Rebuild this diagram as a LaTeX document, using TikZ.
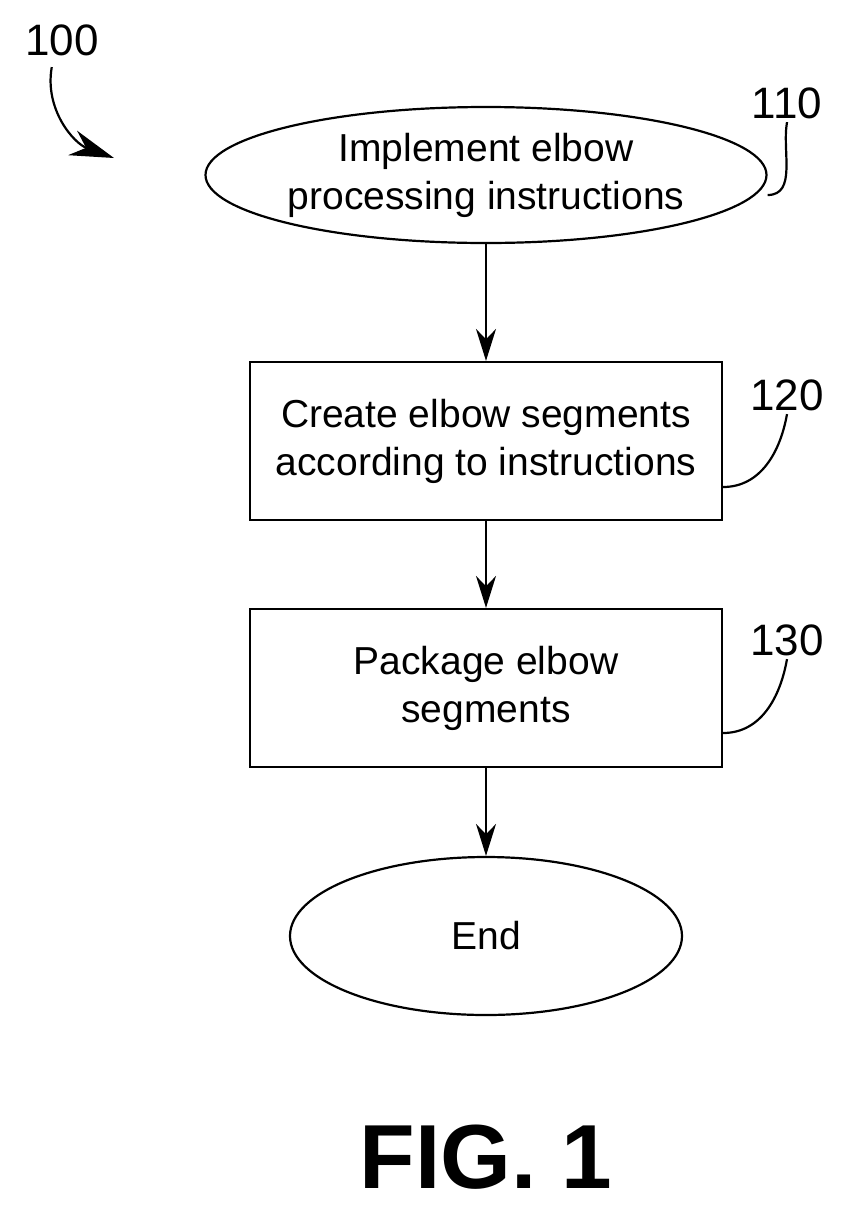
\documentclass[tikz,border=0pt]{standalone}
\usepackage{fontspec}
\setmainfont{Liberation Sans}
\usetikzlibrary{arrows.meta,shapes.geometric}
\tikzset{
  proc/.style={draw, line width=2.2pt, minimum width=472pt, minimum height=158pt, align=center, font=\fontsize{39}{48}\selectfont},
  term/.style={draw, line width=2.2pt, ellipse, inner sep=0pt, align=center, font=\fontsize{39}{48}\selectfont},
  flow/.style={line width=2.2pt, -{Stealth[length=32pt,width=20pt]}},
  lead/.style={line width=2.2pt},
  ref/.style={font=\fontsize{44}{50}\selectfont}
}
\begin{document}
\begin{tikzpicture}[x=1pt,y=-1pt]
    \useasboundingbox (0,0) rectangle (844,1211);

    % flow steps
    \node (impl) at (486,175) [term, minimum width=450pt, minimum height=136pt] {Implement elbow\\processing instructions};
    \node (create) at (486,441) [proc] {Create elbow segments\\according to instructions};
    \node (pack) at (486,688) [proc] {Package elbow\\segments};
    \node (end) at (486,936) [term, minimum width=392pt, minimum height=158pt] {End};

    \draw[flow] (impl) -- (create);
    \draw[flow] (create) -- (pack);
    \draw[flow] (pack) -- (end);

    % reference numerals
    \node (r100) at (62,40) [ref] {100};
    \node (r110) at (787,103) [ref] {110};
    \node (r120) at (787,395) [ref] {120};
    \node (r130) at (787,640) [ref] {130};
    \coordinate (p100) at (114,158);

    \draw[line width=2.2pt, -{Stealth[length=44pt,width=26pt]}] (r100.south west) ++(30,8) to[out=260, in=160] (p100);
    \draw[lead] (impl.east) ++(0,20) to[out=0, in=260] (r110.south);
    \draw[lead] (create.east) ++(0,46) to[out=0, in=260] (r120.south);
    \draw[lead] (pack.east) ++(0,45) to[out=0, in=260] (r130.south);

    \node (fig) at (486,1157) [font=\bfseries\fontsize{91}{96}\selectfont] {FIG. 1};
\end{tikzpicture}
\end{document}
